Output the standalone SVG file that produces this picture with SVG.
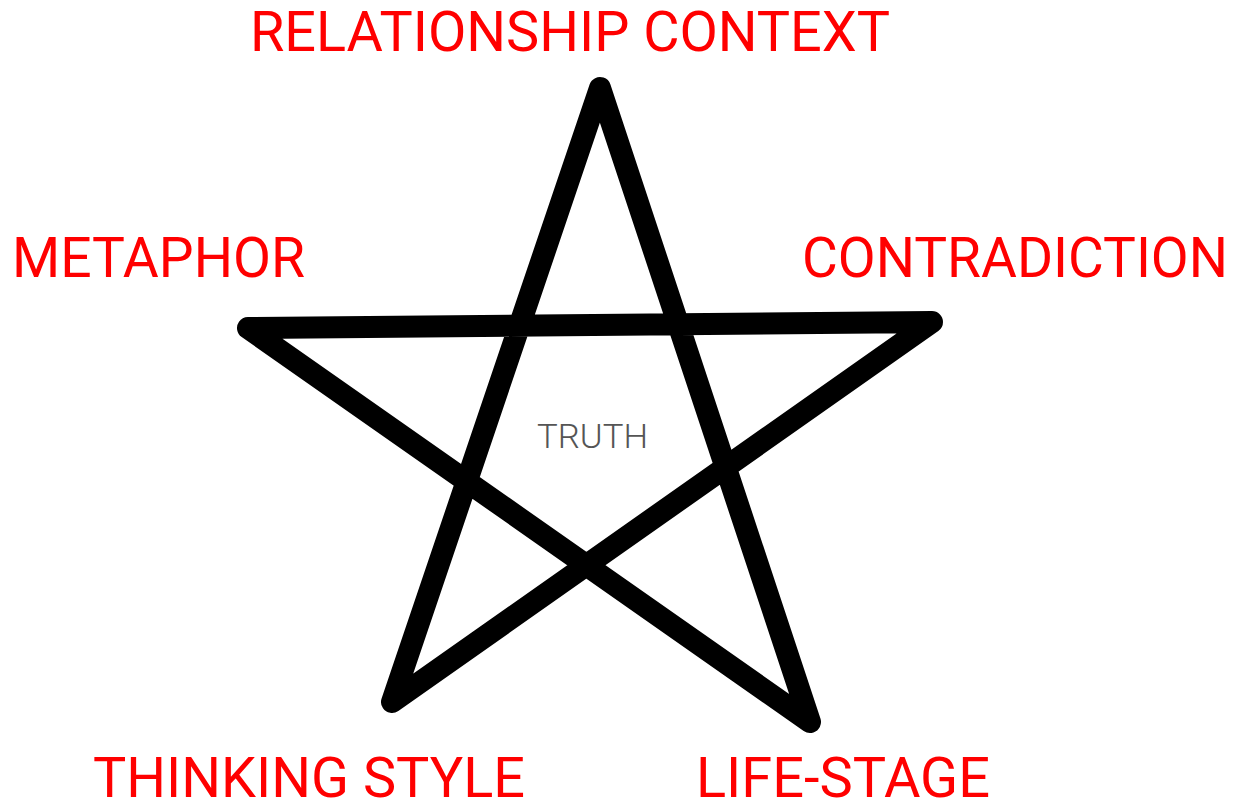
<svg xmlns="http://www.w3.org/2000/svg" width="1236" height="812" viewBox="0 0 1236 812">
  <style>
    .lbl { font-family: Roboto, "Liberation Sans", sans-serif; font-size: 56px; fill: #ff0000; font-weight: 400; }
    .truth { font-family: Roboto, "Liberation Sans", sans-serif; font-size: 34px; fill: #555555; font-weight: 300; }
    .star { fill: none; stroke: #000000; stroke-width: 22; stroke-linejoin: round; stroke-linecap: round; }
  </style>
  <rect width="1236" height="812" fill="#ffffff"/>
  <g id="connectors">
    <path class="star" d="M600,88 L810,722 L248,328 L932,322 L392,702 Z"/>
  </g>
  <g id="truth"><text class="truth" x="537" y="448" textLength="111" lengthAdjust="spacingAndGlyphs">TRUTH</text></g>
  <g id="relationship-context"><text class="lbl" x="250" y="51" textLength="640" lengthAdjust="spacingAndGlyphs">RELATIONSHIP CONTEXT</text></g>
  <g id="metaphor"><text class="lbl" x="12" y="277" textLength="293" lengthAdjust="spacingAndGlyphs">METAPHOR</text></g>
  <g id="contradiction"><text class="lbl" x="802" y="277" textLength="426" lengthAdjust="spacingAndGlyphs">CONTRADICTION</text></g>
  <g id="thinking-style"><text class="lbl" x="93" y="797" textLength="432" lengthAdjust="spacingAndGlyphs">THINKING STYLE</text></g>
  <g id="life-stage"><text class="lbl" x="696" y="797" textLength="294" lengthAdjust="spacingAndGlyphs">LIFE-STAGE</text></g>
</svg>
